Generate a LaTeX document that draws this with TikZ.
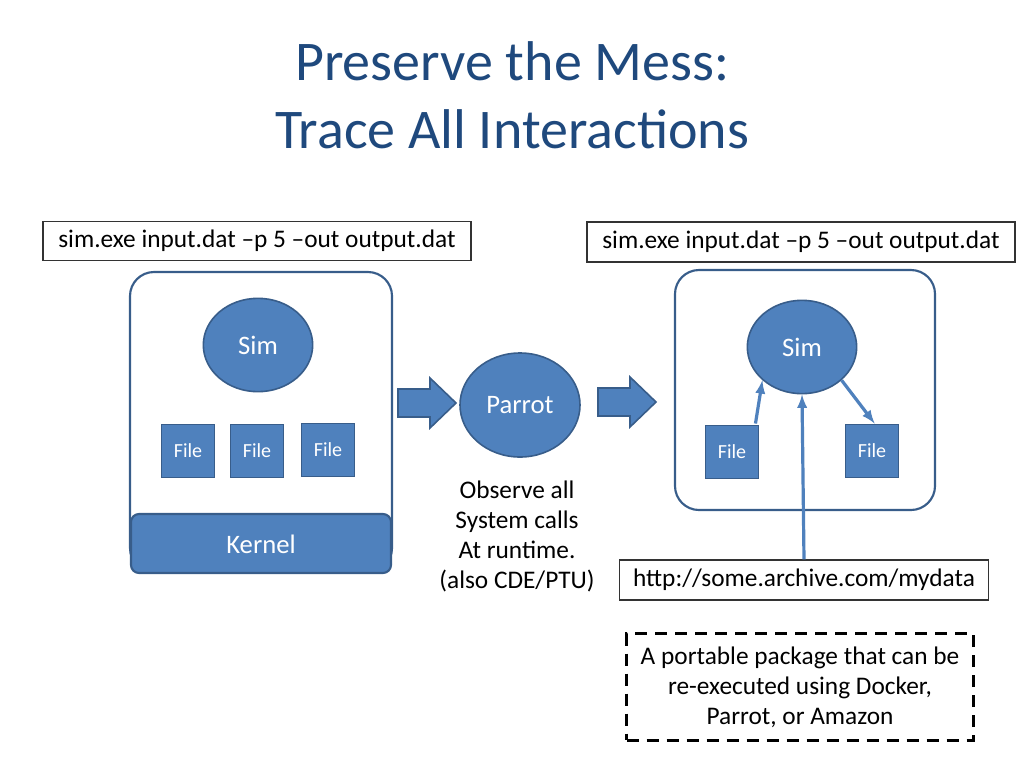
\documentclass[tikz,border=0pt]{standalone}
\usepackage{fontspec}
\setmainfont{Carlito}
\usetikzlibrary{shapes.geometric}
\definecolor{tblue}{RGB}{31,73,125}
\definecolor{fillb}{RGB}{79,129,189}
\definecolor{edgeb}{RGB}{56,93,138}
\begin{document}
\begin{tikzpicture}[x=0.75pt,y=-0.75pt,
  cmd/.style={draw=black!80,fill=white,line width=0.8pt,font=\fontsize{19}{22}\selectfont,inner sep=0pt},
  cont/.style={draw=edgeb,line width=1.6pt,rounded corners=18pt,fill=white},
  blob/.style={ellipse,draw=edgeb,line width=1.2pt,fill=fillb,text=white,font=\fontsize{20}{24}\selectfont,inner sep=0pt},
  file/.style={draw=edgeb,line width=1.2pt,fill=fillb,text=white,font=\fontsize{15}{18}\selectfont,minimum width=40pt,minimum height=40pt,inner sep=0pt},
  barrow/.style={draw=edgeb,line width=1.2pt,fill=fillb},
  con/.style={draw=fillb,line width=2.4pt,-latex},
  txt/.style={font=\fontsize{19}{22.5}\selectfont,align=center}]
\useasboundingbox (0,0) rectangle (1024,768);
\node[text=tblue,font=\fontsize{42}{51}\selectfont,align=center] (title) at (512,95) {Preserve the Mess:\\Trace All Interactions};
\node[cmd,minimum width=321pt,minimum height=29pt] (c1) at (257,241) {sim.exe input.dat –p 5 –out output.dat};
\node[cmd,minimum width=321pt,minimum height=30pt] (c2) at (801,242) {sim.exe input.dat –p 5 –out output.dat};
\draw[cont] (130,272) rectangle (392,572);
\draw[draw=edgeb,line width=1.6pt,fill=fillb,rounded corners=6pt] (131,514) rectangle (391,573);
\node[text=white,font=\fontsize{20}{24}\selectfont] (kernel) at (261,544) {Kernel};
\node[blob,minimum width=82pt,minimum height=70pt] (sim1) at (258,345) {Sim};
\node[file] (f1) at (188,451) {File};
\node[file] (f2) at (257,451) {File};
\node[file] (f3) at (328,450) {File};
\draw[barrow] (398,389) -- (430,389) -- (430,378) -- (456,403) -- (430,428) -- (430,417) -- (398,417) -- cycle;
\node[blob,minimum width=90pt,minimum height=78pt] (parrot) at (520,405) {Parrot};
\node[txt] (obs) at (517,536) {Observe all\\System calls\\At runtime.\\(also CDE/PTU)};
\draw[barrow] (598,388) -- (630,388) -- (630,377) -- (656,402) -- (630,427) -- (630,416) -- (598,416) -- cycle;
\draw[cont] (675,270) rectangle (935,510);
\node[blob,minimum width=82pt,minimum height=70pt] (sim2) at (802,347) {Sim};
\node[file] (f4) at (732,452) {File};
\node[file] (f5) at (872,451) {File};
\node[cmd,minimum width=277pt,minimum height=30pt] (http) at (804,580) {http://some.archive.com/mydata};
\draw[con] (f4.north east) ++(-4,-1) -- (sim2.220);
\draw[con] (sim2.-40) -- ([xshift=2pt]f5.north);
\draw[con] (http.north) -- (sim2.south);
\node[draw=black,line width=2.2pt,dash pattern=on 9pt off 6pt,minimum width=260pt,minimum height=80pt,txt] (pkg) at (800,687) {A portable package that can be\\re-executed using Docker,\\Parrot, or Amazon};
\end{tikzpicture}
\end{document}
